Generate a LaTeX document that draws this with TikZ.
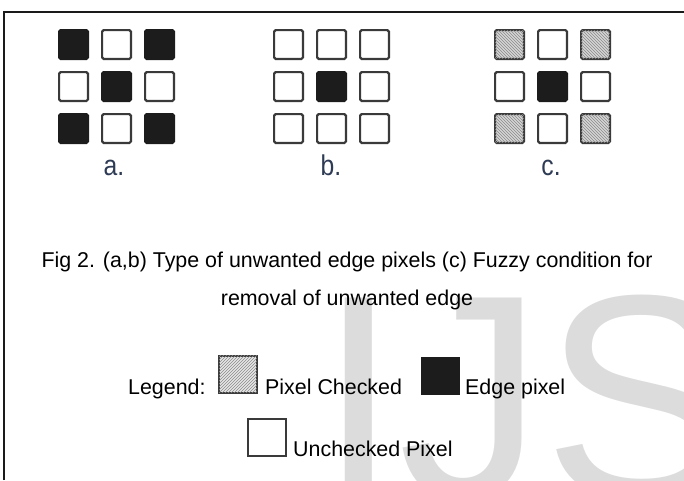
\documentclass[tikz,border=0pt]{standalone}
\usepackage{fontspec}
\setmainfont{Liberation Sans}
\usetikzlibrary{patterns}
\definecolor{edgefill}{HTML}{1C1C1C}
\definecolor{cellline}{HTML}{3A3A3A}
\definecolor{hatchfill}{HTML}{D6D6D6}
\definecolor{hatchline}{HTML}{8A8A8A}
\definecolor{wmgray}{HTML}{DCDCDC}
\definecolor{lblcol}{HTML}{2E3B55}
\definecolor{framecol}{HTML}{1A1A1A}
\tikzset{
  cell/.style={draw=cellline, line width=2.2pt, minimum width=28.8pt, minimum height=28.8pt,
    inner sep=0pt, rounded corners=1.5pt, anchor=north west},
  uncell/.style={cell, fill=white},
  edgecell/.style={cell, draw=edgefill, fill=edgefill},
  hatchcell/.style={cell, fill=hatchfill, postaction={pattern=north west lines, pattern color=hatchline}},
  sublabel/.style={text=lblcol, font=\fontsize{26}{28}\selectfont, inner sep=0pt, anchor=base},
  captext/.style={font=\fontsize{21.4}{25}\selectfont, inner sep=0pt, anchor=base},
  legtext/.style={font=\fontsize{21.4}{25}\selectfont, inner sep=0pt, anchor=base west},
  legbox/.style={minimum width=38pt, minimum height=37pt, inner sep=0pt, anchor=north west},
}
\begin{document}
\begin{tikzpicture}[x=1pt,y=-1pt]
\useasboundingbox (0,0) rectangle (684,480);
\clip (0,0) rectangle (684,480);
% watermark
\node[text=wmgray, font=\fontsize{290}{290}\selectfont, inner sep=0pt, anchor=base west] (wm) at (318,497) {IJS};
% frame
\draw[framecol, line width=2pt] (3.7,480) -- (3.7,11.8) -- (684,11.8);
% grid a
\node[edgecell] (a11) at (58,29) {};
\node[uncell]   (a12) at (101,29) {};
\node[edgecell] (a13) at (144,29) {};
\node[uncell]   (a21) at (58,71) {};
\node[edgecell] (a22) at (101,71) {};
\node[uncell]   (a23) at (144,71) {};
\node[edgecell] (a31) at (58,113) {};
\node[uncell]   (a32) at (101,113) {};
\node[edgecell] (a33) at (144,113) {};
% grid b
\node[uncell]   (b11) at (273,29) {};
\node[uncell]   (b12) at (316,29) {};
\node[uncell]   (b13) at (359,29) {};
\node[uncell]   (b21) at (273,71) {};
\node[edgecell] (b22) at (316,71) {};
\node[uncell]   (b23) at (359,71) {};
\node[uncell]   (b31) at (273,113) {};
\node[uncell]   (b32) at (316,113) {};
\node[uncell]   (b33) at (359,113) {};
% grid c
\node[hatchcell] (c11) at (494,29) {};
\node[uncell]    (c12) at (537,29) {};
\node[hatchcell] (c13) at (580,29) {};
\node[uncell]    (c21) at (494,71) {};
\node[edgecell]  (c22) at (537,71) {};
\node[uncell]    (c23) at (580,71) {};
\node[hatchcell] (c31) at (494,113) {};
\node[uncell]    (c32) at (537,113) {};
\node[hatchcell] (c33) at (580,113) {};
% sub labels
\node[sublabel] (la) at (114,175) {\scalebox{0.95}[1.1]{a.}};
\node[sublabel] (lb) at (331,175) {\scalebox{0.95}[1.1]{b.}};
\node[sublabel] (lc) at (551,175) {\scalebox{0.95}[1.1]{c.}};
% caption
\node[captext] (cap1) at (347,267) {Fig 2. (a,b) Type of unwanted edge pixels (c) Fuzzy condition for};
\node[captext] (cap2) at (347,305) {removal of unwanted edge};
% legend
\node[legtext] (leg) at (128,394) {Legend:};
\node[legbox, draw=cellline, line width=1.6pt, fill=hatchfill!60, postaction={pattern=north east lines, pattern color=hatchline}] (lhatch) at (218,355) {};
\node[legtext] (lhatcht) at (265,394) {Pixel Checked};
\node[legbox, draw=edgefill, fill=edgefill] (ledge) at (421,357) {};
\node[legtext] (ledget) at (465,394) {Edge pixel};
\node[legbox, draw=cellline, line width=2pt, fill=white] (lun) at (247,418) {};
\node[legtext] (lunt) at (293,456) {Unchecked Pixel};
\end{tikzpicture}
\end{document}
